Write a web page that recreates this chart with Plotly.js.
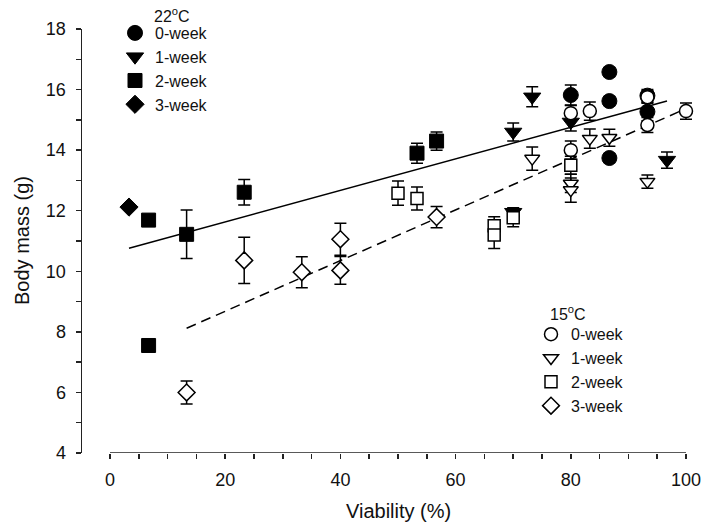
<!DOCTYPE html>
<html>
<head>
<meta charset="utf-8">
<script src="https://cdn.plot.ly/plotly-3.0.1.min.js"></script>
<style>
  body { margin: 0; background: #fff; }
  #chart { width: 709px; height: 529px; }
</style>
</head>
<body>
<div id="chart"></div>
<script>
// 22 C groups (filled symbols)
const warm0X = [80, 86.7, 86.7, 86.7, 93.3, 93.3];
const warm0Y = [15.82, 16.58, 15.62, 13.74, 15.8, 15.27];
const warm0E = [0.33, 0.15, 0.15, 0.15, 0.2, 0.3];

const warm1X = [70, 70, 73.3, 80, 96.7];
const warm1Y = [11.95, 14.6, 15.76, 14.93, 13.67];
const warm1E = [0.15, 0.3, 0.33, 0.3, 0.27];

const warm2X = [6.7, 6.7, 13.3, 23.3, 53.3, 56.7];
const warm2Y = [11.69, 7.55, 11.22, 12.61, 13.9, 14.3];
const warm2E = [0, 0, 0.8, 0.42, 0.33, 0.3];

const warm3X = [3.3];
const warm3Y = [12.12];
const warm3E = [0];

// 15 C groups (open symbols)
const cold0X = [80, 80, 83.3, 93.3, 93.3, 100];
const cold0Y = [15.22, 14.0, 15.29, 15.75, 14.83, 15.29];
const cold0E = [0.25, 0.3, 0.3, 0.2, 0.25, 0.27];

const cold1X = [73.3, 80, 80, 83.3, 86.7, 93.3];
const cold1Y = [13.72, 12.9, 12.68, 14.38, 14.41, 12.96];
const cold1E = [0.38, 0.3, 0.4, 0.32, 0.28, 0.22];

const cold2X = [50, 53.3, 66.7, 66.7, 70, 80];
const cold2Y = [12.58, 12.4, 11.5, 11.2, 11.77, 13.5];
const cold2E = [0.4, 0.38, 0.3, 0.45, 0.3, 0.3];

const cold3X = [13.3, 23.3, 33.3, 40, 40, 56.7];
const cold3Y = [6.0, 10.36, 9.97, 11.06, 10.03, 11.79];
const cold3E = [0.38, 0.76, 0.51, 0.53, 0.46, 0.35];

// regression lines (end points)
const warmFitX = [3.3, 96.7];
const warmFitY = [10.76, 15.62];
const coldFitX = [13.3, 100];
const coldFitY = [8.12, 15.37];

// extent of the detached x axis base line
const axisX = [0, 100];
const axisY = [4, 4];

const weekNames = ['0-week', '1-week', '2-week', '3-week'];
const symbols = ['circle', 'triangle-down', 'square', 'diamond'];
const sizes = [15, 15, 14, 14];
const openSizes = [13, 13, 12, 13];

const FONT = 'Liberation Sans, Arial, sans-serif';
const PW = 627; // plot width in px (82 .. 709)
const PH = 423.5; // plot height in px (29 .. 452.5)

function pointTrace(x, y, e, i, filled) {
  return {
    type: 'scatter',
    mode: 'markers',
    x: x,
    y: y,
    name: weekNames[i],
    legend: filled ? 'legend' : 'legend2',
    marker: {
      symbol: symbols[i],
      size: filled ? sizes[i] : openSizes[i],
      color: filled ? '#000' : '#fff',
      line: { color: '#000', width: filled ? 1 : 1.5 }
    },
    error_y: {
      type: 'data', array: e, visible: true,
      color: '#000', thickness: 1.5, width: 6
    }
  };
}

const data = [
  {
    type: 'scatter', mode: 'lines', x: axisX, y: axisY, cliponaxis: false,
    line: { color: '#222', width: 1.5 }, showlegend: false, hoverinfo: 'skip'
  },
  {
    type: 'scatter', mode: 'lines', x: warmFitX, y: warmFitY,
    line: { color: '#000', width: 1.5 }, showlegend: false, hoverinfo: 'skip'
  },
  {
    type: 'scatter', mode: 'lines', x: coldFitX, y: coldFitY,
    line: { color: '#000', width: 1.5, dash: '10px,6px' }, showlegend: false, hoverinfo: 'skip'
  },
  pointTrace(warm0X, warm0Y, warm0E, 0, true),
  pointTrace(warm1X, warm1Y, warm1E, 1, true),
  pointTrace(warm2X, warm2Y, warm2E, 2, true),
  pointTrace(warm3X, warm3Y, warm3E, 3, true),
  pointTrace(cold0X, cold0Y, cold0E, 0, false),
  pointTrace(cold1X, cold1Y, cold1E, 1, false),
  pointTrace(cold2X, cold2Y, cold2E, 2, false),
  pointTrace(cold3X, cold3Y, cold3E, 3, false)
];

const legendStyle = {
  font: { family: FONT, size: 16, color: '#111' },
  bgcolor: 'rgba(0,0,0,0)',
  xanchor: 'left', yanchor: 'top',
  traceorder: 'normal'
};

const tickStyle = { ticks: 'outside', ticklen: 5, tickwidth: 1.5, tickcolor: '#222' };

const layout = {
  width: 709,
  height: 529,
  margin: { l: 82, r: 0, t: 29, b: 76, pad: 0, autoexpand: false },
  showlegend: true,
  // x axis starts a little right of the y axis, like the original
  xaxis: Object.assign({
    range: [-4.861, 103.993],
    tick0: 0, dtick: 20,
    minor: Object.assign({ dtick: 5, tick0: 0 }, tickStyle),
    showline: false,
    showgrid: false, zeroline: false,
    tickfont: { family: FONT, size: 18, color: '#111' },
    ticklabelstandoff: 5,
    automargin: false
  }, tickStyle),
  yaxis: Object.assign({
    range: [4, 18],
    dtick: 2,
    minor: Object.assign({ dtick: 1 }, tickStyle),
    showline: true, linecolor: '#222', linewidth: 1.5,
    showgrid: false, zeroline: false,
    tickfont: { family: FONT, size: 18, color: '#111' },
    ticklabelstandoff: 6,
    automargin: false
  }, tickStyle),
  legend: Object.assign({}, legendStyle, { x: (115 - 82) / PW, y: 1 + (29 - 16) / PH }),
  legend2: Object.assign({}, legendStyle, { x: (531 - 82) / PW, y: 1 - (317 - 29) / PH }),
  annotations: [
    {
      text: 'Body mass (g)', xref: 'paper', yref: 'paper',
      x: (22 - 82) / PW, y: 0.5, textangle: -90,
      xanchor: 'center', yanchor: 'middle', showarrow: false,
      font: { family: FONT, size: 20, color: '#111' }
    },
    {
      text: 'Viability (%)', xref: 'x', yref: 'paper',
      x: 50, y: -(510 - 452.5) / PH,
      xanchor: 'center', yanchor: 'middle', showarrow: false,
      font: { family: FONT, size: 20, color: '#111' }
    },
    {
      text: '22<sup>o</sup>C', xref: 'paper', yref: 'paper',
      x: (152 - 82) / PW, y: 1 + (29 - 15) / PH,
      xanchor: 'left', yanchor: 'middle', showarrow: false,
      font: { family: FONT, size: 16, color: '#111' }
    },
    {
      text: '15<sup>o</sup>C', xref: 'paper', yref: 'paper',
      x: (548 - 82) / PW, y: 1 - (313 - 29) / PH,
      xanchor: 'left', yanchor: 'middle', showarrow: false,
      font: { family: FONT, size: 16, color: '#111' }
    }
  ]
};

Plotly.newPlot('chart', data, layout, { staticPlot: true });
</script>
</body>
</html>
